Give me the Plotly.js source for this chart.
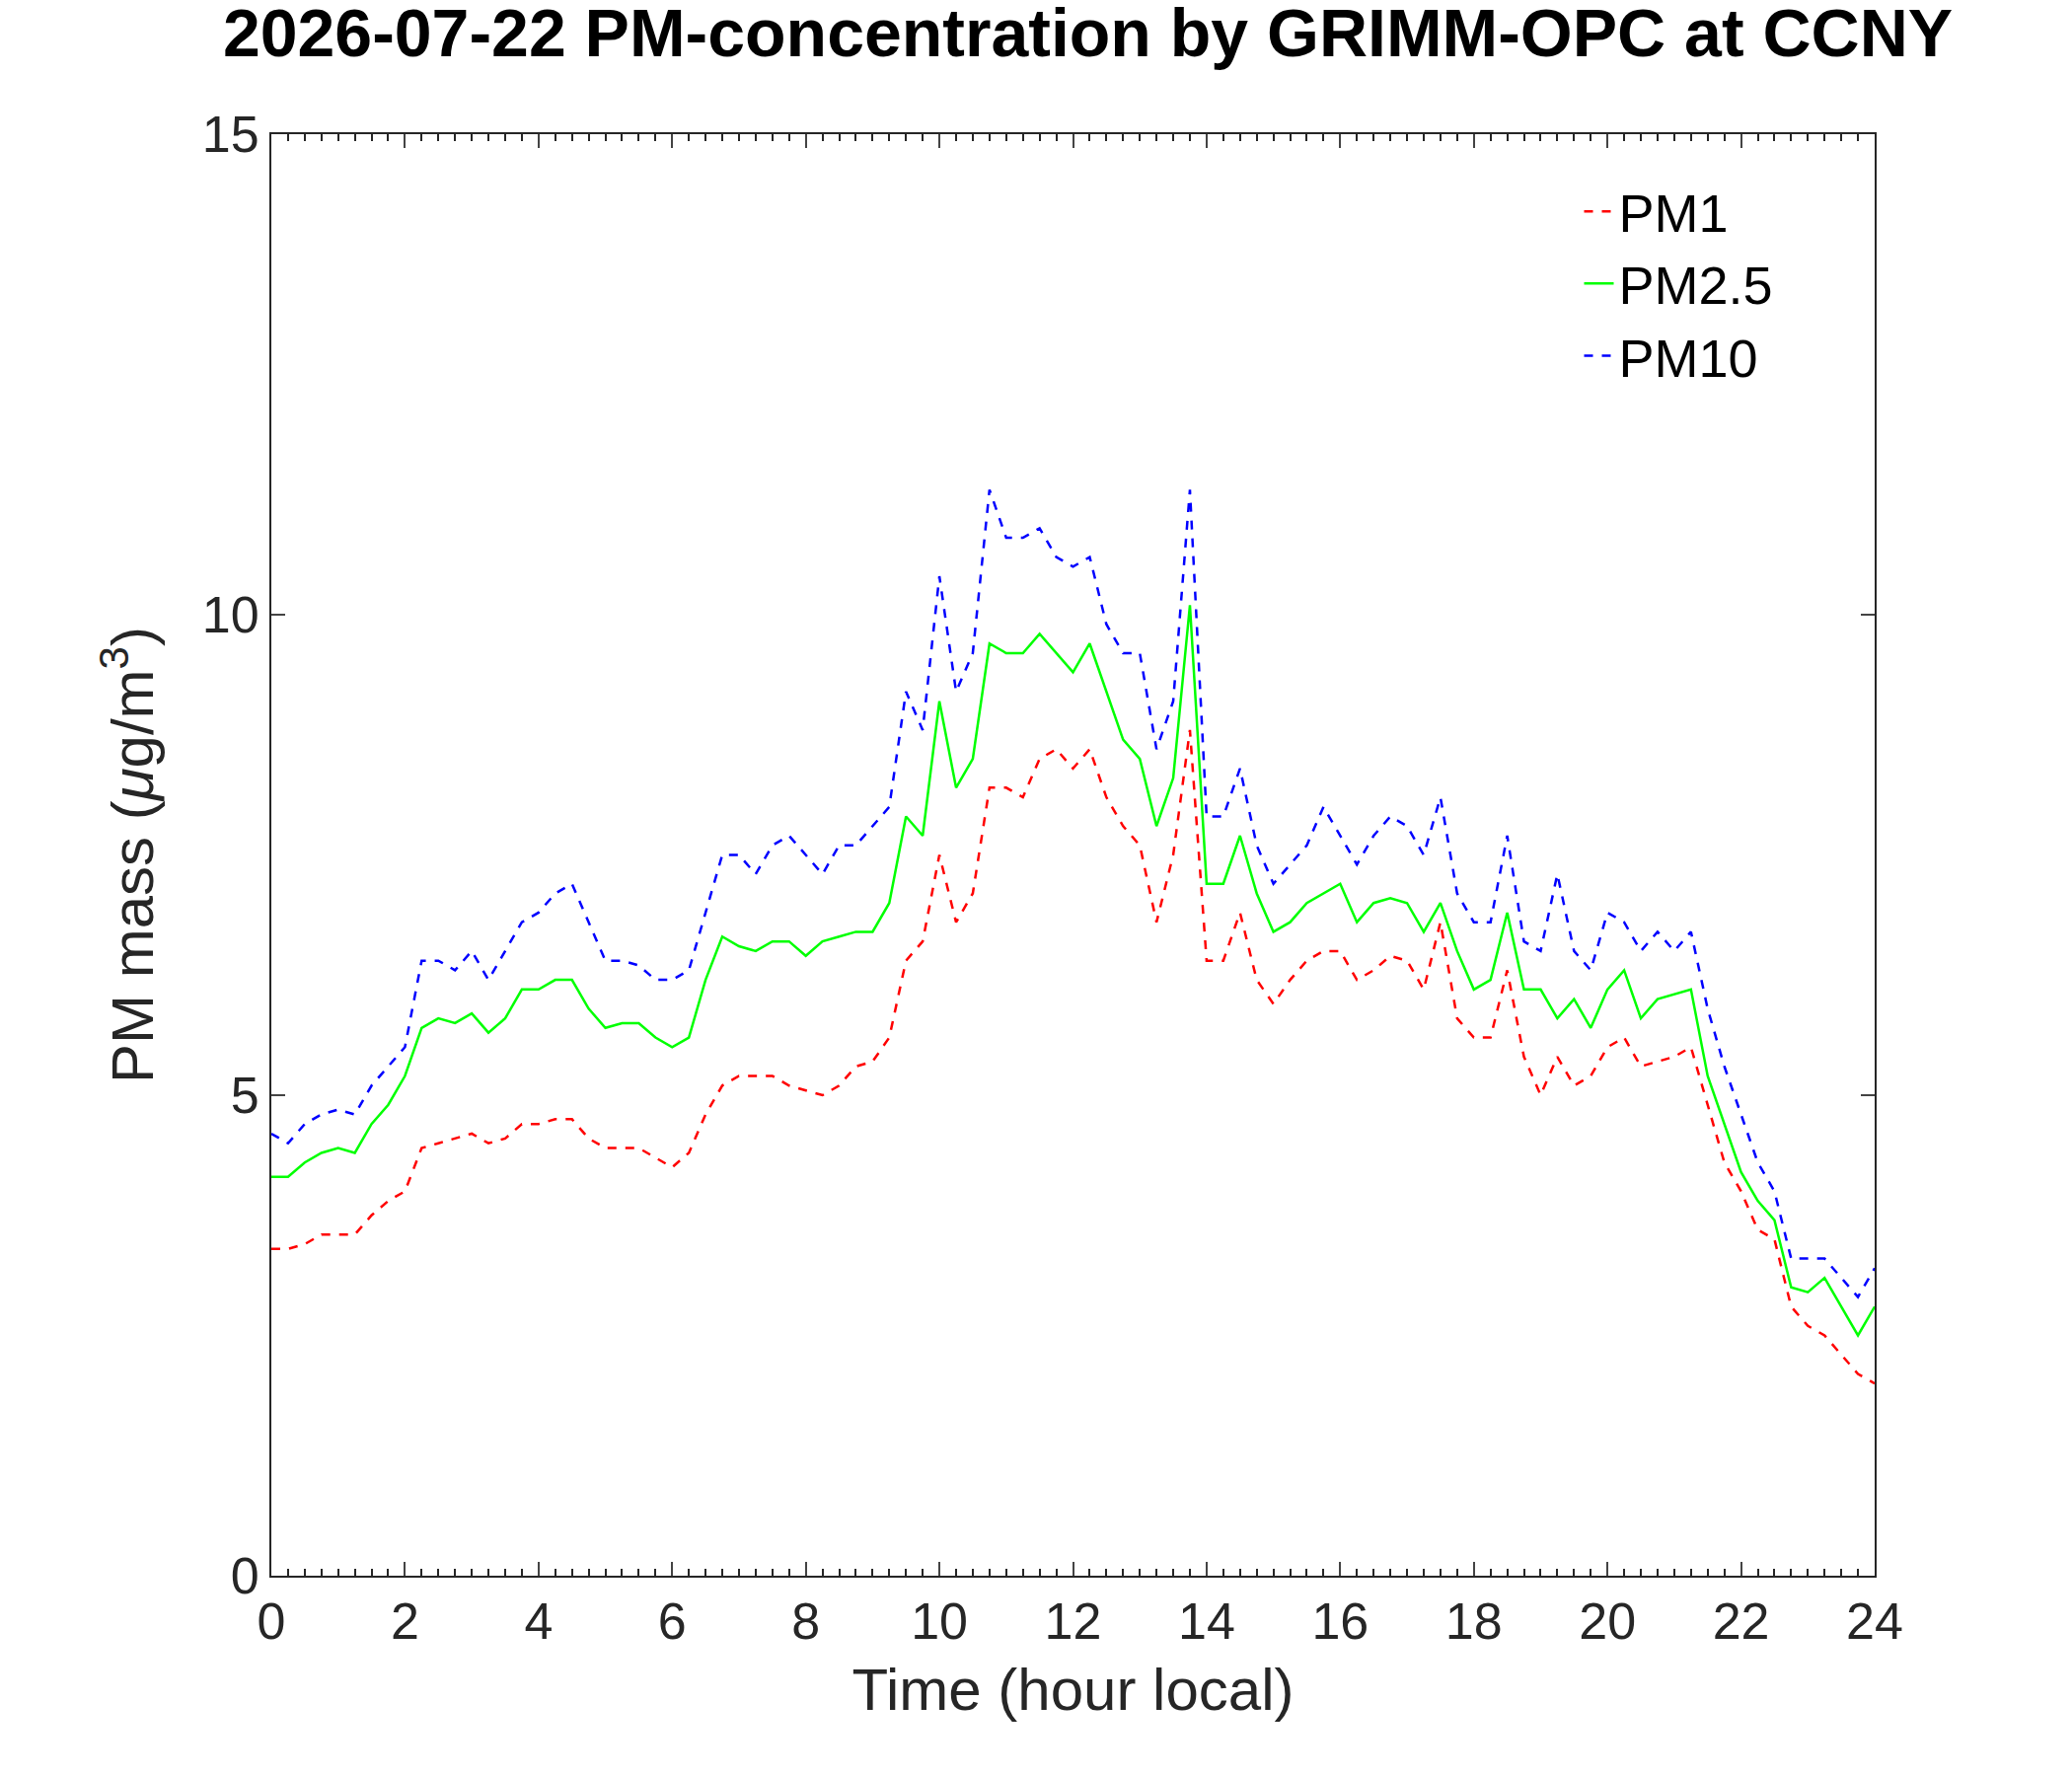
<!DOCTYPE html>
<html>
<head>
<meta charset="utf-8">
<script src="https://cdn.plot.ly/plotly-3.0.1.min.js"></script>
<style>body{margin:0;background:#fff}</style>
</head>
<body>
<div id="chart" style="width:2100px;height:1800px"></div>
<script>
// time in hours, every quarter hour
var hours = []
for (var i=0;i<=96;i++) {hours.push(i/4)}

var pm1 = [3.4,3.4,3.45,3.55,3.55,3.55,3.75,3.9,4.0,4.45,4.5,4.55,4.6,4.5,4.55,4.7,4.7,4.75,4.75,4.55,
    4.45,4.45,4.45,4.35,4.25,4.4,4.8,5.1,5.2,5.2,5.2,5.1,5.05,5.0,5.1,5.3,5.35,5.6,6.4,6.6,
    7.5,6.8,7.1,8.2,8.2,8.1,8.5,8.6,8.4,8.6,8.1,7.8,7.6,6.8,7.5,8.8,6.4,6.4,6.9,6.2,
    5.95,6.2,6.4,6.5,6.5,6.2,6.3,6.45,6.4,6.1,6.8,5.8,5.6,5.6,6.3,5.4,5.0,5.4,5.1,5.2,
    5.5,5.6,5.3,5.35,5.4,5.5,4.9,4.3,4.0,3.6,3.5,2.8,2.6,2.5,2.3,2.1,2.0]

var pm25 = [4.15,4.15,4.3,4.4,4.45,4.4,4.7,4.9,5.2,5.7,5.8,5.75,5.85,5.65,5.8,6.1,6.1,6.2,6.2,5.9,
    5.7,5.75,5.75,5.6,5.5,5.6,6.2,6.65,6.55,6.5,6.6,6.6,6.45,6.6,6.65,6.7,6.7,7.0,7.9,7.7,
    9.1,8.2,8.5,9.7,9.6,9.6,9.8,9.6,9.4,9.7,9.2,8.7,8.5,7.8,8.3,10.1,7.2,7.2,7.7,7.1,
    6.7,6.8,7.0,7.1,7.2,6.8,7.0,7.05,7.0,6.7,7.0,6.5,6.1,6.2,6.9,6.1,6.1,5.8,6.0,5.7,
    6.1,6.3,5.8,6.0,6.05,6.1,5.2,4.7,4.2,3.9,3.7,3.0,2.95,3.1,2.8,2.5,2.8]

var pm10 = [4.6,4.5,4.7,4.8,4.85,4.8,5.1,5.3,5.5,6.4,6.4,6.3,6.5,6.2,6.5,6.8,6.9,7.1,7.2,6.8,
    6.4,6.4,6.35,6.2,6.2,6.3,6.9,7.5,7.5,7.3,7.6,7.7,7.5,7.3,7.6,7.6,7.8,8.0,9.2,8.8,
    10.4,9.2,9.6,11.3,10.8,10.8,10.9,10.6,10.5,10.6,9.9,9.6,9.6,8.6,9.1,11.3,7.9,7.9,8.4,7.6,
    7.2,7.4,7.6,8.0,7.7,7.4,7.7,7.9,7.8,7.5,8.1,7.1,6.8,6.8,7.7,6.6,6.5,7.3,6.5,6.3,
    6.9,6.8,6.5,6.7,6.5,6.7,5.9,5.3,4.8,4.3,4.0,3.3,3.3,3.3,3.1,2.9,3.2]

var xTicks = [0,2,4,6,8,10,12,14,16,18,20,22,24]
var yTicks = [0,5,10,15]

var fontFam = 'Liberation Sans, Arial, sans-serif'

var data = [
    {x: hours, y: pm1, name: 'PM1', type: 'scatter', mode: 'lines',
     line: {color: '#ff0000', width: 2.5, dash: 'dash'}},
    {x: hours, y: pm25, name: 'PM2.5', type: 'scatter', mode: 'lines',
     line: {color: '#00ff00', width: 2.5}},
    {x: hours, y: pm10, name: 'PM10', type: 'scatter', mode: 'lines',
     line: {color: '#0000ff', width: 2.5, dash: 'dash'}},
]

var layout = {
    width: 2100, height: 1800,
    paper_bgcolor: '#fff', plot_bgcolor: '#fff',
    margin: {l: 275, r: 200, t: 136, b: 203},
    font: {family: fontFam, color: '#262626'},
    title: {text: '<b>2026-07-22 PM-concentration by GRIMM-OPC at CCNY</b>',
        font: {size: 68, color: '#000'}, x: 0.525, xanchor: 'center', y: 0.995, yanchor: 'top'},
    showlegend: true,
    legend: {x: 0.94, y: 0.975, xanchor: 'right', yanchor: 'top', bgcolor: 'rgba(0,0,0,0)',
        font: {size: 54, color: '#000'}, tracegroupgap: 0},
    xaxis: {
        range: [0, 24], tickvals: xTicks, ticks: 'inside', ticklen: 14, tickwidth: 2,
        showline: true, linecolor: '#262626', linewidth: 2, mirror: 'ticks',
        showgrid: false, zeroline: false, tickfont: {size: 52},
        minor: {dtick: 0.25, ticks: 'inside', ticklen: 7, tickwidth: 2, tickcolor: '#262626'},
        title: {text: 'Time (hour local)', font: {size: 60}, standoff: 20},
    },
    yaxis: {
        range: [0, 15], tickvals: yTicks, ticks: 'inside', ticklen: 14, tickwidth: 2,
        showline: true, linecolor: '#262626', linewidth: 2, mirror: 'ticks',
        showgrid: false, zeroline: false, tickfont: {size: 52},
        title: {text: 'PM mass (<i>μ</i>g/m<sup>3</sup>)', font: {size: 60}, standoff: 30},
    },
}

Plotly.newPlot('chart', data, layout, {displayModeBar: false})
</script>
</body>
</html>
